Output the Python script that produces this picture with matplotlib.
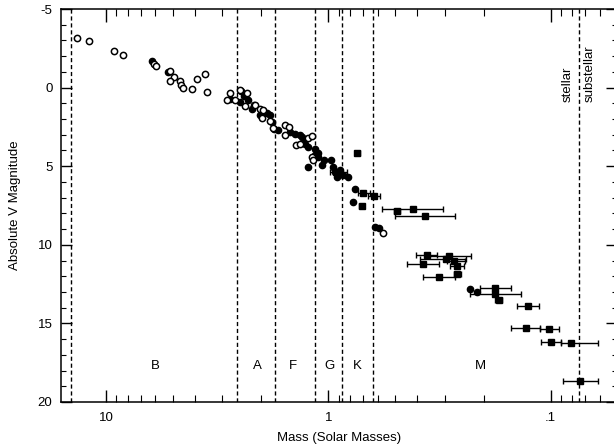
import matplotlib
matplotlib.use("Agg")
import matplotlib.pyplot as plt
import numpy as np
from matplotlib.ticker import FixedLocator, FixedFormatter, LogLocator, NullFormatter, MultipleLocator

plt.rcParams["font.family"] = ["Liberation Sans", "DejaVu Sans"]
plt.rcParams["axes.unicode_minus"] = False

# open circles: mass (solar masses), absolute V magnitude
open_mass = [13.46, 11.97, 9.23, 8.43, 6.06, 5.96, 5.15, 4.94, 5.15, 4.66, 4.61, 4.53,
             4.12, 3.91, 3.59, 3.52, 2.78, 2.85, 2.63, 2.51, 2.33, 2.37, 2.14, 2.03,
             1.96, 1.99, 1.83, 1.77, 1.57, 1.51, 1.57, 1.40, 1.34, 1.24, 1.19, 1.19,
             1.17, 0.57]
open_mag = [-3.18, -2.95, -2.31, -2.06, -1.53, -1.38, -1.04, -0.68, -0.42, -0.40, -0.19, 0.0,
            0.11, -0.57, -0.87, 0.31, 0.36, 0.81, 0.81, 0.17, 0.32, 1.17, 1.08, 1.38,
            1.40, 1.94, 2.15, 2.59, 2.36, 2.51, 3.04, 3.64, 3.58, 3.23, 3.09, 4.41,
            4.63, 9.25]

# filled circles
filled_mass = [6.19, 5.29, 2.48, 2.77, 2.50, 2.29, 2.39, 2.21, 2.17, 2.03, 1.96, 1.89,
               1.83, 1.80, 1.75, 1.68, 1.49, 1.41, 1.34, 1.32, 1.29, 1.27, 1.23, 1.15,
               1.11, 1.15, 1.11, 1.05, 1.07, 1.24, 0.976, 0.95, 0.933, 0.902, 0.886, 0.856,
               0.917, 0.813, 0.759, 0.772, 0.617, 0.592, 0.231, 0.214]
filled_mag = [-1.69, -1.02, 0.24, 0.75, 0.92, 0.81, 0.55, 1.34, 1.13, 1.76, 1.66, 1.59,
              1.76, 2.19, 2.61, 2.68, 2.83, 2.93, 3.04, 3.15, 3.36, 3.57, 3.78, 3.90,
              4.14, 4.31, 4.42, 4.63, 4.95, 5.04, 4.59, 5.06, 5.38, 5.59, 5.27, 5.59,
              5.69, 5.69, 6.43, 7.29, 8.88, 8.93, 12.82, 13.02]

# squares with mass error bars
sq_mass = [0.923, 0.740, 0.700, 0.708, 0.623, 0.417, 0.492, 0.367, 0.361, 0.286, 0.297,
           0.374, 0.272, 0.265, 0.263, 0.319, 0.177, 0.178, 0.171, 0.127, 0.129, 0.1017,
           0.0991, 0.0812, 0.0738]
sq_mag = [5.40, 4.14, 6.71, 7.56, 6.89, 7.71, 7.88, 8.19, 10.64, 10.70, 10.89,
          11.22, 11.06, 11.35, 11.85, 12.06, 12.75, 13.13, 13.52, 13.89, 15.27, 15.35,
          16.20, 16.27, 18.66]
sq_mass_hi = [0.982, 0.759, 0.733, 0.725, 0.661, 0.575, 0.507, 0.501, 0.403, 0.367, 0.387,
              0.441, 0.292, 0.285, 0.272, 0.376, 0.208, 0.230, 0.177, 0.141, 0.151, 0.112,
              0.110, 0.0901, 0.0877]
sq_mass_lo = [0.827, 0.720, 0.649, 0.692, 0.585, 0.304, 0.477, 0.269, 0.323, 0.229, 0.240,
              0.317, 0.243, 0.244, 0.254, 0.269, 0.151, 0.136, 0.165, 0.113, 0.112, 0.0917,
              0.0901, 0.0614, 0.0614]

# spectral class boundaries and labels
boundaries = [14.4, 2.57, 1.73, 1.15, 0.87, 0.63, 0.0745]
class_labels = ["B", "A", "F", "G", "K", "M"]
class_pos = [6.02, 2.09, 1.437, 0.99, 0.74, 0.206]

fig = plt.figure(figsize=(6.14, 4.48), dpi=100)
ax = fig.add_axes([0.0989, 0.1027, 0.9068, 0.8772])

ax.set_xscale("log")
ax.set_xlim(16, 0.05)
ax.set_ylim(20, -5)

for b in boundaries:
    ax.axvline(b, color="black", lw=1.0, ls=(0, (3, 2)), zorder=1)

sq_m = np.array(sq_mass)
xerr = [sq_m - np.array(sq_mass_lo), np.array(sq_mass_hi) - sq_m]
ax.errorbar(sq_mass, sq_mag, xerr=xerr, fmt="s", color="black", ms=4.8,
            elinewidth=1.0, capsize=2, capthick=1.0, zorder=3)
ax.plot(filled_mass, filled_mag, "o", color="black", ms=4.5, zorder=3)
ax.plot(open_mass, open_mag, "o", mfc="white", mec="black", mew=1.1, ms=4.5, zorder=4)

for lab, pos in zip(class_labels, class_pos):
    ax.text(pos, 17.7, lab, ha="center", va="center", fontsize=9.5)

ax.text(0.0835, 0.94, "stellar", rotation=90, ha="center", va="bottom", fontsize=9.5)
ax.text(0.0665, 0.94, "substellar", rotation=90, ha="center", va="bottom", fontsize=9.5)

ax.xaxis.set_major_locator(FixedLocator([10, 1, 0.1]))
ax.xaxis.set_major_formatter(FixedFormatter(["10", "1", ".1"]))
ax.xaxis.set_minor_locator(LogLocator(base=10, subs=np.arange(2, 10)))
ax.xaxis.set_minor_formatter(NullFormatter())
ax.yaxis.set_major_locator(FixedLocator([-5, 0, 5, 10, 15, 20]))
ax.yaxis.set_minor_locator(MultipleLocator(1))

ax.tick_params(which="both", direction="in", top=True, right=True, labelsize=9.5)
ax.tick_params(axis="x", which="major", length=9, width=1, pad=7)
ax.tick_params(axis="x", which="minor", length=5, width=0.8)
ax.tick_params(axis="y", which="major", length=8, width=1, pad=6)
ax.tick_params(axis="y", which="minor", length=3.5, width=0.8)

for s in ax.spines.values():
    s.set_linewidth(1.1)

ax.set_xlabel("Mass (Solar Masses)", fontsize=9.5, labelpad=6)
ax.set_ylabel("Absolute V Magnitude", fontsize=9.5, labelpad=12)

fig.savefig("out.png", dpi=100)
